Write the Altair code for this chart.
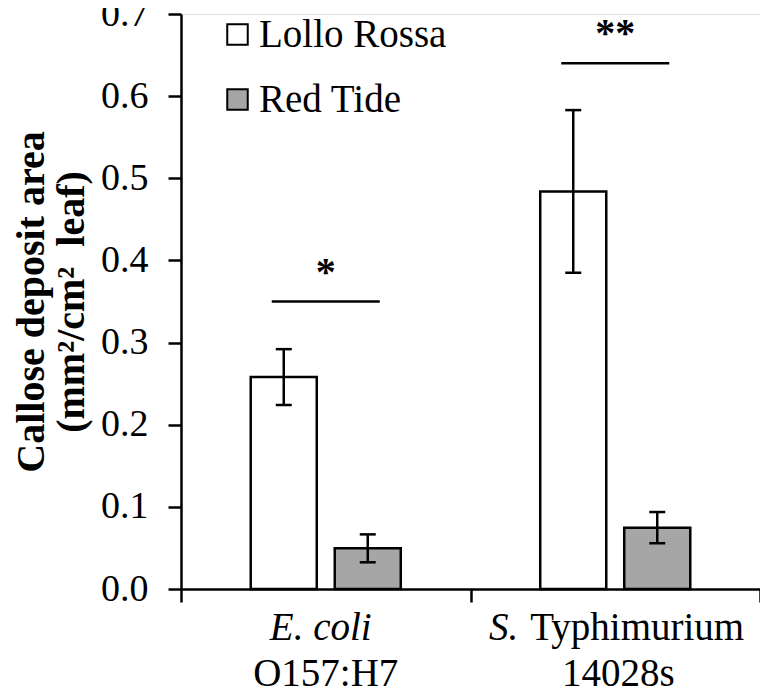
import altair as alt
import pandas as pd

# ---- data ----
categories = ["E. coli O157:H7", "S. Typhimurium 14028s"]
cultivars = ["Lollo Rossa", "Red Tide"]
lollo_mean = [0.258, 0.484]
lollo_err = [0.034, 0.099]
red_mean = [0.0495, 0.0747]
red_err = [0.017, 0.019]
sig_height = [0.35, 0.64]
sig_label = ["*", "**"]
y_ticks = [0.0, 0.1, 0.2, 0.3, 0.4, 0.5, 0.6, 0.7]

# category label pieces (text, font style, line)
label_text = ["E. coli", "O157:H7", "S.", "Typhimurium", "14028s"]
label_cat = [categories[0], categories[0], categories[1], categories[1], categories[1]]
label_style = ["italic", "normal", "italic", "normal", "normal"]
label_line = [1, 2, 1, 1, 2]
label_align = ["center", "center", "right", "left", "center"]
label_dx = [-5, 0, -97, -85, 3]

rows = []
for i, c in enumerate(categories):
    rows.append({"cat": c, "cult": cultivars[0], "mean": lollo_mean[i],
                 "lo": lollo_mean[i] - lollo_err[i], "hi": lollo_mean[i] + lollo_err[i]})
    rows.append({"cat": c, "cult": cultivars[1], "mean": red_mean[i],
                 "lo": red_mean[i] - red_err[i], "hi": red_mean[i] + red_err[i]})
df = pd.DataFrame(rows)
sig = pd.DataFrame({"cat": categories, "h": sig_height, "lab": sig_label})
labs = pd.DataFrame({"cat": label_cat, "txt": label_text, "fstyle": label_style,
                     "ln": label_line, "al": label_align, "ddx": label_dx})

SERIF = "Liberation Serif"
W, H = 579, 575

x_enc = alt.X("cat:N", sort=categories,
              scale=alt.Scale(domain=categories, paddingInner=0, paddingOuter=0),
              axis=alt.Axis(labels=False, title=None, tickBand="extent", tickSize=13,
                            tickWidth=2.5, tickColor="black", domainColor="black",
                            domainWidth=2.5))
xo_enc = alt.XOffset("cult:N", sort=cultivars,
                     scale=alt.Scale(domain=cultivars, paddingInner=0.214, paddingOuter=0.83))
y_scale = alt.Scale(domain=[0, 0.7], nice=False)
y_axis = alt.Axis(values=y_ticks, format=".1f", tickSize=13, tickWidth=2.5,
                  tickColor="black", domainColor="black", domainWidth=2.5,
                  labelFont=SERIF, labelFontSize=38, labelColor="black", labelPadding=20,
                  grid=False,
                  title=["Callose deposit area", "(mm²/cm²\u00a0\u00a0leaf)"],
                  titleFont=SERIF, titleFontSize=40, titleFontWeight="bold",
                  titleColor="black", titlePadding=9, titleLineHeight=40)

base = alt.Chart(df)

bars = base.mark_bar(stroke="black", strokeWidth=2.5).encode(
    x=x_enc, xOffset=xo_enc,
    y=alt.Y("mean:Q", scale=y_scale, axis=y_axis),
    fill=alt.Fill("cult:N", sort=cultivars,
                  scale=alt.Scale(domain=cultivars, range=["white", "#a6a6a6"]),
                  legend=alt.Legend(title=None, orient="none", legendX=37, legendY=1,
                                    symbolType="square", symbolSize=420,
                                    symbolStrokeColor="black", symbolStrokeWidth=2,
                                    labelFont=SERIF, labelFontSize=39, labelColor="black",
                                    labelOffset=2, rowPadding=25, padding=0,
                                    labelLimit=500, symbolOpacity=1)),
)

err = base.mark_rule(color="black", strokeWidth=2.5, opacity=1).encode(
    x=alt.X("cat:N", sort=categories), xOffset=xo_enc,
    y=alt.Y("lo:Q"), y2="hi:Q",
)
caps_hi = base.mark_tick(color="black", size=16, thickness=2.5, opacity=1,
                         orient="horizontal").encode(
    x=alt.X("cat:N", sort=categories), xOffset=xo_enc, y=alt.Y("hi:Q"),
)
caps_lo = base.mark_tick(color="black", size=16, thickness=2.5, opacity=1,
                         orient="horizontal").encode(
    x=alt.X("cat:N", sort=categories), xOffset=xo_enc, y=alt.Y("lo:Q"),
)

sig_line = alt.Chart(sig).mark_tick(color="black", size=108, thickness=2.5, opacity=1,
                                    orient="horizontal").encode(
    x=alt.X("cat:N", sort=categories), y=alt.Y("h:Q"),
)
sig_star = alt.Chart(sig).mark_text(font=SERIF, fontSize=40, fontWeight="bold", color="black",
                                    baseline="alphabetic", dy=-17).encode(
    x=alt.X("cat:N", sort=categories), y=alt.Y("h:Q"), text="lab:N",
)

cat_labels = []
line_y = {1: H + 51, 2: H + 97}
for i in range(len(label_text)):
    one = labs.iloc[[i]]
    cat_labels.append(
        alt.Chart(one).mark_text(
            font=SERIF, fontSize=39, color="black", fontStyle=label_style[i],
            align=label_align[i], baseline="alphabetic", dx=label_dx[i]
        ).encode(x=alt.X("cat:N", sort=categories), y=alt.value(line_y[label_line[i]]),
                 text="txt:N")
    )

chart = alt.layer(bars, err, caps_hi, caps_lo, sig_line, sig_star, *cat_labels).properties(
    width=W, height=H,
    autosize=alt.AutoSizeParams(type="none"),
    padding={"left": 173, "top": 6, "right": 0, "bottom": 103},
).configure_view(stroke=None).configure(background="white")

chart.save("out.html", embed_options={"renderer": "svg", "actions": False})
